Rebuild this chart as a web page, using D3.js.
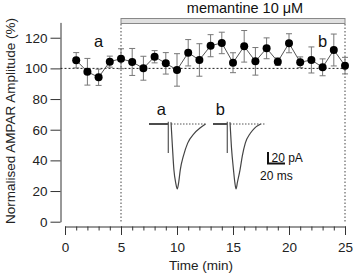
<!DOCTYPE html>
<html><head><meta charset="utf-8">
<script src="https://cdn.jsdelivr.net/npm/d3@7"></script>
<style>body{margin:0;background:#fff}svg{display:block;font-family:"Liberation Sans",Arial,sans-serif}</style>
</head><body><svg id="c" width="355" height="278"></svg>
<script>
// ---- data ----
const times = [1,2,3,4,5,6,7,8,9,10,11,12,13,14,15,16,17,18,19,20,21,22,23,24,25];
const amps  = [105.3,97.8,94.2,104.4,106.3,104.2,100.1,107.6,103.3,99.0,110.2,105.5,114.8,116.6,103.7,114.4,104.6,113.1,104.4,116.4,104.0,105.5,100.7,112.0,101.8];
const sems  = [5.0,8.7,5.3,3.6,6.5,8.8,7.8,4.0,7.0,10.6,8.6,10.6,7.2,7.0,6.5,10.3,9.0,6.8,2.5,6.2,3.5,8.5,5.5,10.4,5.4];
const yTicks = [0,20,40,60,80,100,120];
const xTicks = [0,5,10,15,20,25];
const drugStart = 5, drugEnd = 25;
const drugLabel = "memantine 10 \u03bcM";
// inset traces (ms, pA)
const traceA_t = [25.9,27.6,29.3,31.5,33.3,35.0,36.8,40.5,45.5,53.3,60.0,66.5];
const traceA_i = [3,-40,-79,-102,-112,-100,-79,-55,-33,-16,-7,0];
const traceA_base = [0,22.7];
const traceA_art = 22.7;
const traceB_t = [20.0,21.7,24.1,25.8,27.1,28.8,31.8,34.5,38.0,43.9,49.0,56.1];
const traceB_i = [3,-40,-79,-102,-112,-100,-79,-55,-33,-16,-7,0];
const traceB_base = [0,16.8];
const traceB_art = 16.8;
const traceA_dot = [25.9,66.5], traceB_dot = [20,62.4];
const scaleBar = {ms:20, pA:20};

// ---- layout ----
const svg = d3.select("#c");
const x = d3.scaleLinear().domain([0,25]).range([65,345]);
const y = d3.scaleLinear().domain([0,130]).range([221.7,22.4]);

// y axis
const yAx = svg.append("g").attr("transform","translate(60.5,0)")
  .call(d3.axisLeft(y).tickValues(yTicks).tickSize(10).tickPadding(3).tickSizeOuter(0));
yAx.select(".domain").attr("stroke","#333");
yAx.selectAll(".tick line").attr("stroke","#333");
yAx.selectAll("text").attr("font-size","13.5px").attr("fill","#222").attr("font-family","Liberation Sans, Arial, sans-serif");

// x axis (minor + major)
const xg = svg.append("g").attr("transform","translate(0,226.5)");
xg.call(d3.axisBottom(x).ticks(25).tickSize(4).tickFormat("").tickSizeOuter(0));
xg.select(".domain").attr("stroke","#333");
xg.selectAll(".tick line").attr("stroke","#333");
const xMaj = svg.append("g").attr("transform","translate(0,226.5)")
  .call(d3.axisBottom(x).tickValues(xTicks).tickSize(8.5).tickPadding(7).tickSizeOuter(0));
xMaj.select(".domain").remove();
xMaj.selectAll(".tick line").attr("stroke","#333");
xMaj.selectAll("text").attr("font-size","13.5px").attr("fill","#222").attr("font-family","Liberation Sans, Arial, sans-serif");

// axis titles
svg.append("text").attr("transform","translate(15,121) rotate(-90)").attr("text-anchor","middle")
  .attr("font-size","13.5px").attr("fill","#222").text("Normalised AMPAR Amplitude (%)");
svg.append("text").attr("x",201).attr("y",270).attr("text-anchor","middle")
  .attr("font-size","13.5px").attr("fill","#222").text("Time (min)");

// reference lines
svg.append("line").attr("x1",60.5).attr("x2",x(25)).attr("y1",y(100)).attr("y2",y(100))
  .attr("stroke","#222").attr("stroke-dasharray","2,2").attr("stroke-width",1);
[drugStart,drugEnd].forEach(v=>{
  svg.append("line").attr("x1",x(v)).attr("x2",x(v)).attr("y1",24).attr("y2",y(0))
    .attr("stroke","#444").attr("stroke-dasharray","1.5,2").attr("stroke-width",1);
});

// drug bar
svg.append("rect").attr("x",x(drugStart)).attr("y",18.5).attr("width",x(drugEnd)-x(drugStart)).attr("height",5)
  .attr("fill","#e0e0e0").attr("stroke","#888").attr("stroke-width",1);
svg.append("text").attr("x",245).attr("y",13).attr("text-anchor","middle").attr("font-size","14.5px").attr("fill","#111").text(drugLabel);

// series
const pts = times.map((t,i)=>({t,v:amps[i],e:sems[i]}));
const eb = svg.append("g").attr("stroke","#777").attr("stroke-width",1);
pts.forEach(d=>{
  eb.append("line").attr("x1",x(d.t)).attr("x2",x(d.t)).attr("y1",y(d.v+d.e)).attr("y2",y(d.v-d.e));
  [d.v+d.e,d.v-d.e].forEach(c=>eb.append("line").attr("x1",x(d.t)-3).attr("x2",x(d.t)+3).attr("y1",y(c)).attr("y2",y(c)));
});
svg.append("path").datum(pts).attr("fill","none").attr("stroke","#555").attr("stroke-width",1)
  .attr("d",d3.line().x(d=>x(d.t)).y(d=>y(d.v)));
svg.append("g").selectAll("circle").data(pts).join("circle")
  .attr("cx",d=>x(d.t)).attr("cy",d=>y(d.v)).attr("r",4).attr("fill","#000");

// labels a, b
svg.append("text").attr("x",x(3)).attr("y",47).attr("text-anchor","middle").attr("font-size","16.5px").attr("fill","#111").text("a");
svg.append("text").attr("x",x(23)).attr("y",47).attr("text-anchor","middle").attr("font-size","16.5px").attr("fill","#111").text("b");

// inset traces
const xi = d3.scaleLinear().domain([0,20]).range([0,17]);
const yi = d3.scaleLinear().domain([0,-20]).range([0,11.6]);
function drawTrace(ox, oy, ts, is, base, art, dot, lab){
  const g = svg.append("g").attr("transform",`translate(${ox},${oy})`);
  g.append("line").attr("x1",xi(dot[0])).attr("x2",xi(dot[1])).attr("y1",yi(0)).attr("y2",yi(0))
    .attr("stroke","#555").attr("stroke-dasharray","1.5,1.5").attr("stroke-width",1);
  g.append("line").attr("x1",xi(base[0])).attr("x2",xi(base[1])).attr("y1",yi(0)).attr("y2",yi(0))
    .attr("stroke","#111").attr("stroke-width",1.5);
  g.append("line").attr("x1",xi(art)).attr("x2",xi(art)).attr("y1",yi(4)).attr("y2",yi(-50))
    .attr("stroke","#555").attr("stroke-width",1.2);
  const td = ts.map((t,i)=>[t,is[i]]);
  g.append("path").datum(td).attr("fill","none").attr("stroke","#444").attr("stroke-width",1.2)
    .attr("d",d3.line().x(d=>xi(d[0])).y(d=>yi(d[1])).curve(d3.curveMonotoneX));
  g.append("text").attr("x",xi(base[1])-7).attr("y",-9).attr("text-anchor","middle").attr("font-size","16.5px").attr("fill","#111").text(lab);
}
drawTrace(149,124,traceA_t,traceA_i,traceA_base,traceA_art,traceA_dot,"a");
drawTrace(213,124,traceB_t,traceB_i,traceB_base,traceB_art,traceB_dot,"b");

// scale bar
const sb = svg.append("g").attr("transform","translate(268,163.5)");
sb.append("path").attr("fill","none").attr("stroke","#111").attr("stroke-width",2)
  .attr("d",`M0,${-yi(-scaleBar.pA)}V0H${xi(scaleBar.ms)}`);
sb.append("text").attr("x",3.5).attr("y",-1.5).attr("font-size","12px").attr("fill","#111").text(scaleBar.pA+" pA");
sb.append("text").attr("x",-8).attr("y",16.5).attr("font-size","12px").attr("fill","#111").text(scaleBar.ms+" ms");
</script></body></html>
